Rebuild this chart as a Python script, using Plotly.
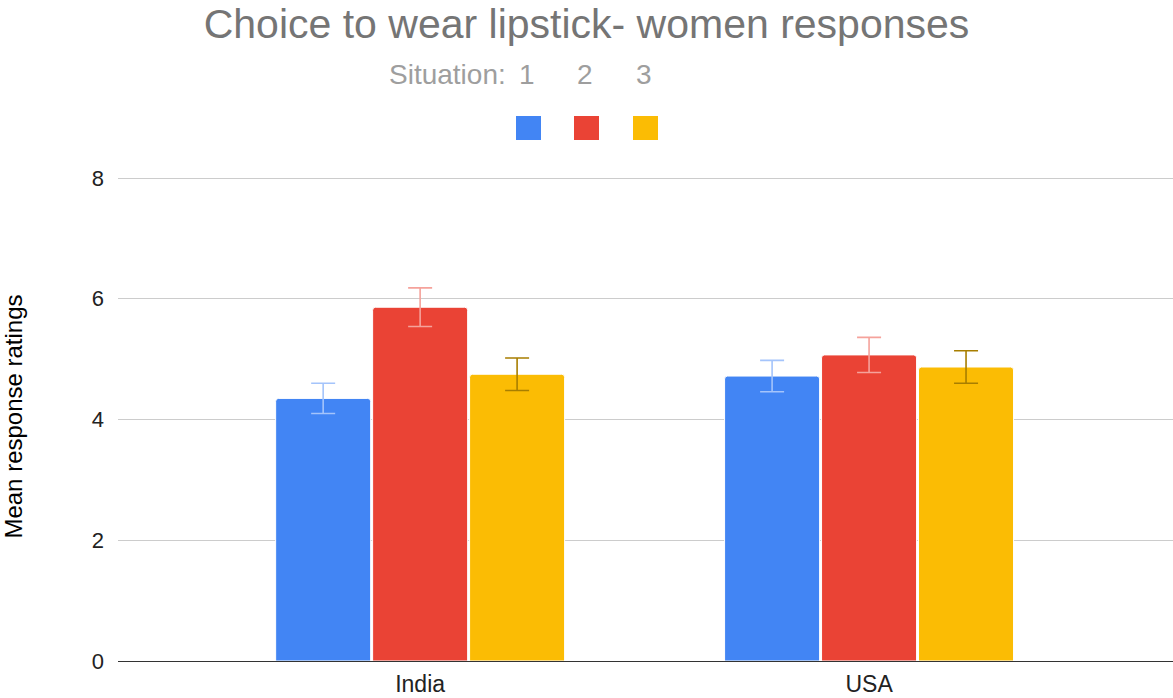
import plotly.graph_objects as go

categories = ["India", "USA"]
situations = ["1", "2", "3"]
means_s1 = [4.35, 4.72]
means_s2 = [5.86, 5.07]
means_s3 = [4.75, 4.87]
err_s1 = [0.25, 0.26]
err_s2 = [0.32, 0.29]
err_s3 = [0.27, 0.27]

bar_colors = ["#4285f4", "#ea4335", "#fbbc04"]
err_colors = ["#a4c4fb", "#f5a29b", "#a87e00"]

FONT = "Arial, Liberation Sans, sans-serif"
W, H = 1173, 698
ML, MR, MB = 118, 0, 37
YMAX = 8.1
PPU = (661 - 178) / 8.0
MT = int(round(178 - (YMAX - 8) * PPU))
PW, PH = W - ML - MR, H - MT - MB

fig = go.Figure()
for name, vals, errs, c, ec in zip(situations, [means_s1, means_s2, means_s3],
                                   [err_s1, err_s2, err_s3], bar_colors, err_colors):
    fig.add_trace(go.Bar(
        x=categories, y=vals, name=name,
        marker=dict(color=c, line=dict(color="white", width=1)),
        error_y=dict(type="data", array=errs, visible=True, color=ec,
                     thickness=1.6, width=12),
        showlegend=False,
    ))

def px_x(px):
    return (px - ML) / PW

def px_y(py):
    return (H - MB - py) / PH

annotations = [
    dict(text="Situation:", x=px_x(508), y=px_y(75), xref="paper", yref="paper",
         xanchor="right", yanchor="middle", showarrow=False,
         font=dict(size=28, color="#9e9e9e", family=FONT)),
]
shapes = []
sw_x = [516, 574, 633]
for lab, x0, c in zip(situations, sw_x, bar_colors):
    annotations.append(dict(text=lab, x=px_x(x0 + 11), y=px_y(75), xref="paper", yref="paper",
                            xanchor="center", yanchor="middle", showarrow=False,
                            font=dict(size=28, color="#9e9e9e", family=FONT)))
    shapes.append(dict(type="rect", xref="paper", yref="paper",
                       x0=px_x(x0), x1=px_x(x0 + 25), y0=px_y(140), y1=px_y(116),
                       fillcolor=c, line=dict(width=0)))

fig.update_layout(
    width=W, height=H,
    margin=dict(l=ML, r=MR, t=MT, b=MB, pad=0, autoexpand=False),
    paper_bgcolor="white", plot_bgcolor="white",
    title=dict(text="Choice to wear lipstick- women responses",
               x=0.5, xref="container", xanchor="center", y=1 - 24 / H, yanchor="middle",
               font=dict(size=41, color="#757575", family=FONT)),
    barmode="group", bargap=0.352, bargroupgap=0.02, barcornerradius=3,
    font=dict(family=FONT, color="#222222", size=22),
    annotations=annotations, shapes=shapes,
    xaxis=dict(range=[-0.673, 1.677], showgrid=False, ticks="", showline=False,
               ticklabelstandoff=7, automargin=False,
               tickfont=dict(size=23, color="#222222")),
    yaxis=dict(range=[0, YMAX], tickvals=[0, 2, 4, 6, 8], showgrid=True, gridcolor="#cccccc",
               gridwidth=1, zeroline=True, zerolinecolor="#333333", zerolinewidth=1.2,
               ticks="", ticklabelstandoff=13, automargin=False,
               title=dict(text="Mean response ratings", standoff=62,
                          font=dict(size=24, color="#000000")),
               tickfont=dict(size=22, color="#222222")),
)

fig.write_html("out.html", config={"displayModeBar": False},
               post_script="document.body.style.margin='0';document.body.style.padding='0';")
